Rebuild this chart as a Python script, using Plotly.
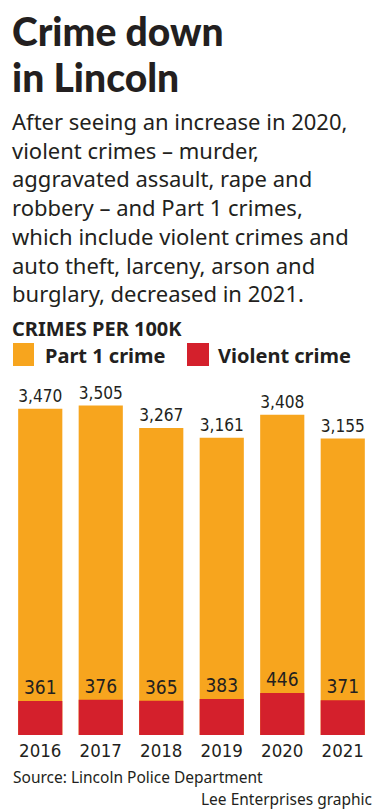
import plotly.graph_objects as go

years = ["2016", "2017", "2018", "2019", "2020", "2021"]
part1 = [3470, 3505, 3267, 3161, 3408, 3155]
violent = [361, 376, 365, 383, 446, 371]

ORANGE = "#F7A51E"
RED = "#D4202C"
INK = "#231F20"
OFF = 8  # page body margin
W, H = 391 - OFF, 812 - OFF

def px(x):
    return (x - OFF) / W

def py(y):
    return (H - (y - OFF)) / H

NUM_FONT = "Liberation Sans Narrow, DejaVu Sans Condensed, Arial Narrow, sans-serif"

fig = go.Figure()
fig.add_trace(go.Bar(
    x=years, y=part1, marker_color=ORANGE, marker_line_width=0,
    text=[f"{v:,}" for v in part1], textposition="outside",
    textfont=dict(family=NUM_FONT, size=19, color=INK),
    cliponaxis=False, name="Part 1 crime", showlegend=False,
))
fig.add_trace(go.Bar(
    x=years, y=violent, marker_color=RED, marker_line_width=0,
    text=[f"{v:,}" for v in violent], textposition="outside",
    textfont=dict(family=NUM_FONT, size=19, color=INK),
    cliponaxis=False, name="Violent crime", showlegend=False,
))

plot_top, plot_bottom = 380, 735
ymax = (plot_bottom - plot_top) / 0.094

fig.update_layout(
    width=W, height=H,
    margin=dict(l=0, r=0, t=0, b=0),
    paper_bgcolor="white", plot_bgcolor="white",
    barmode="overlay", bargap=0.27,
    xaxis=dict(domain=[px(10), px(373)], showgrid=False, zeroline=False,
               showline=False, ticks="", ticklabelstandoff=2,
               tickfont=dict(family=NUM_FONT, size=18.5, color=INK)),
    yaxis=dict(domain=[py(plot_bottom), py(plot_top)], range=[0, ymax],
               visible=False),
)

annotations = []
def text(x, y, s, size, family, color=INK, xanchor="left", weight=None):
    f = dict(family=family, size=size, color=color)
    if weight:
        f["weight"] = weight
    annotations.append(dict(
        x=px(x), y=py(y), xref="paper", yref="paper", text=s,
        showarrow=False, xanchor=xanchor, yanchor="middle", font=f,
    ))

TITLE_FONT = "Lato, Roboto, sans-serif"
text(10, 31, "Crime down", 39, TITLE_FONT, weight=900)
text(10, 77, "in Lincoln", 39, TITLE_FONT, weight=900)

sub = [
    "After seeing an increase in 2020,",
    "violent crimes \u2013 murder,",
    "aggravated assault, rape and",
    "robbery \u2013 and Part 1 crimes,",
    "which include violent crimes and",
    "auto theft, larceny, arson and",
    "burglary, decreased in 2021.",
]
SUB_FONT = "Noto Sans, Open Sans, sans-serif"
for i, line in enumerate(sub):
    text(10, 121 + i * 28.7, line, 22, SUB_FONT)

text(10, 328, "CRIMES PER 100K", 20, SUB_FONT, weight=700)
text(43, 355, "Part 1 crime", 20, SUB_FONT, weight=700)
text(216, 355, "Violent crime", 20, SUB_FONT, weight=700)

text(11, 777, "Source: Lincoln Police Department", 15.5, SUB_FONT)
text(374, 799, "Lee Enterprises graphic", 15.5, SUB_FONT, xanchor="right")

shapes = [
    dict(type="rect", xref="paper", yref="paper", x0=px(13), x1=px(34),
         y0=py(366), y1=py(343), fillcolor=ORANGE, line_width=0),
    dict(type="rect", xref="paper", yref="paper", x0=px(187), x1=px(209),
         y0=py(366), y1=py(343), fillcolor=RED, line_width=0),
]

fig.update_layout(annotations=annotations, shapes=shapes)
fig.write_html("out.html")
